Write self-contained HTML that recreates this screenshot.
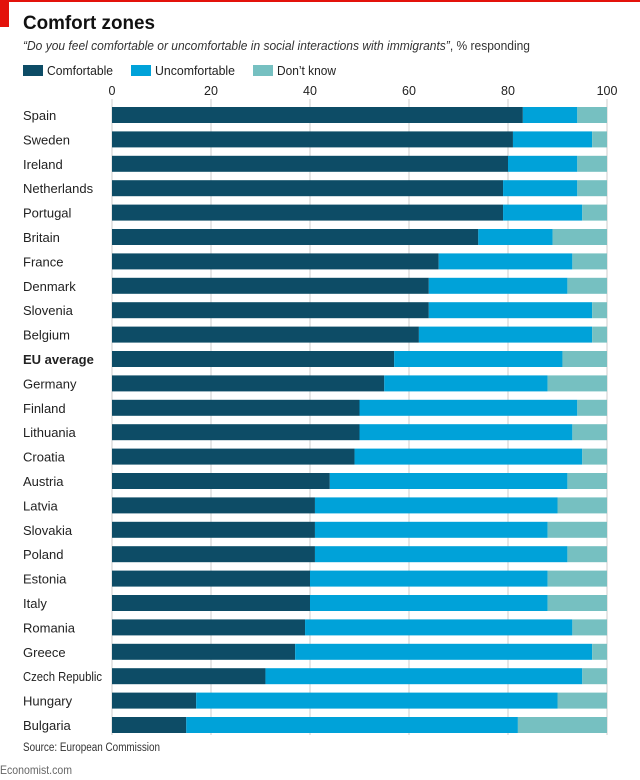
<!DOCTYPE html>
<html><head><meta charset="utf-8"><style>
body{margin:0;background:#fff;font-family:"Liberation Sans",sans-serif;}
#wrap{position:relative;width:640px;height:780px;overflow:hidden;background:#fff;}
</style></head><body>
<div id="wrap">
<svg id="svg" width="640" height="780">
<rect x="0" y="0" width="640" height="2" fill="#e3120b"/>
<rect x="0" y="0" width="9" height="27" fill="#e3120b"/>
<text x="23" y="29" font-size="19" font-weight="bold" fill="#111" textLength="132" lengthAdjust="spacingAndGlyphs">Comfort zones</text>
<text x="23" y="50" font-size="13" fill="#333" textLength="507" lengthAdjust="spacingAndGlyphs"><tspan font-style="italic">“Do you feel comfortable or uncomfortable in social interactions with immigrants”</tspan>, % responding</text>
<g>
<rect x="23" y="65" width="20" height="11" fill="#0d4c66"/>
<text x="47" y="75" font-size="13" fill="#222" textLength="66" lengthAdjust="spacingAndGlyphs">Comfortable</text>
<rect x="131" y="65" width="20" height="11" fill="#00a2d9"/>
<text x="155" y="75" font-size="13" fill="#222" textLength="80" lengthAdjust="spacingAndGlyphs">Uncomfortable</text>
<rect x="253" y="65" width="20" height="11" fill="#76c0c1"/>
<text x="277" y="75" font-size="13" fill="#222" textLength="59" lengthAdjust="spacingAndGlyphs">Don’t know</text>
</g>
<g id="grid"></g><g id="bars"></g><g id="labels"></g>
<text x="23" y="751" font-size="11.5" fill="#333" textLength="137" lengthAdjust="spacingAndGlyphs">Source: European Commission</text>
<text x="0" y="774" font-size="12" fill="#666" textLength="72" lengthAdjust="spacingAndGlyphs">Economist.com</text>
</svg></div>
<script>
const countries=["Spain","Sweden","Ireland","Netherlands","Portugal","Britain","France","Denmark","Slovenia","Belgium","EU average","Germany","Finland","Lithuania","Croatia","Austria","Latvia","Slovakia","Poland","Estonia","Italy","Romania","Greece","Czech Republic","Hungary","Bulgaria"];
const comfortable=[83,81,80,79,79,74,66,64,64,62,57,55,50,50,49,44,41,41,41,40,40,39,37,31,17,15];
const uncomfortable=[11,16,14,15,16,15,27,28,33,35,34,33,44,43,46,48,49,47,51,48,48,54,60,64,73,67];
const dontKnow=[6,3,6,6,5,11,7,8,3,3,9,12,6,7,5,8,10,12,8,12,12,7,3,5,10,18];
const ticks=[0,20,40,60,80,100];
const NS="http://www.w3.org/2000/svg";
const x=v=>112+v*4.95;
const y=i=>107+i*24.4;
const bh=16;
function mk(tag,attrs,parent){const e=document.createElementNS(NS,tag);for(const k in attrs)e.setAttribute(k,attrs[k]);parent.appendChild(e);return e;}
const grid=document.getElementById('grid'),bars=document.getElementById('bars'),labels=document.getElementById('labels');
ticks.forEach(t=>{
 const l=mk('line',{x1:x(t),x2:x(t),y1:99,y2:735,stroke:'#ccc','stroke-width':1},grid);
 
 
 const tx=mk('text',{x:x(t),y:95,'font-size':12.5,fill:'#222','text-anchor':'middle'},grid);
 tx.textContent=t;
 
 
});
countries.forEach((c,i)=>{
 const segs=[[0,comfortable[i],'#0d4c66','comfortable'],[comfortable[i],uncomfortable[i],'#00a2d9','uncomfortable'],[comfortable[i]+uncomfortable[i],dontKnow[i],'#76c0c1','dont-know']];
 segs.forEach(s=>{
  const r=mk('rect',{x:x(s[0]),y:y(i),width:x(s[0]+s[1])-x(s[0]),height:bh,fill:s[2]},bars);
  
  
 });
 const t=mk('text',{x:23,y:y(i)+13,'font-size':13,fill:'#222','font-weight':c==='EU average'?'bold':'normal'},labels);
 t.textContent=c;
 if(c==='Czech Republic'){t.setAttribute('textLength','79');t.setAttribute('lengthAdjust','spacingAndGlyphs');}
 
 
});
</script>
</body></html>
